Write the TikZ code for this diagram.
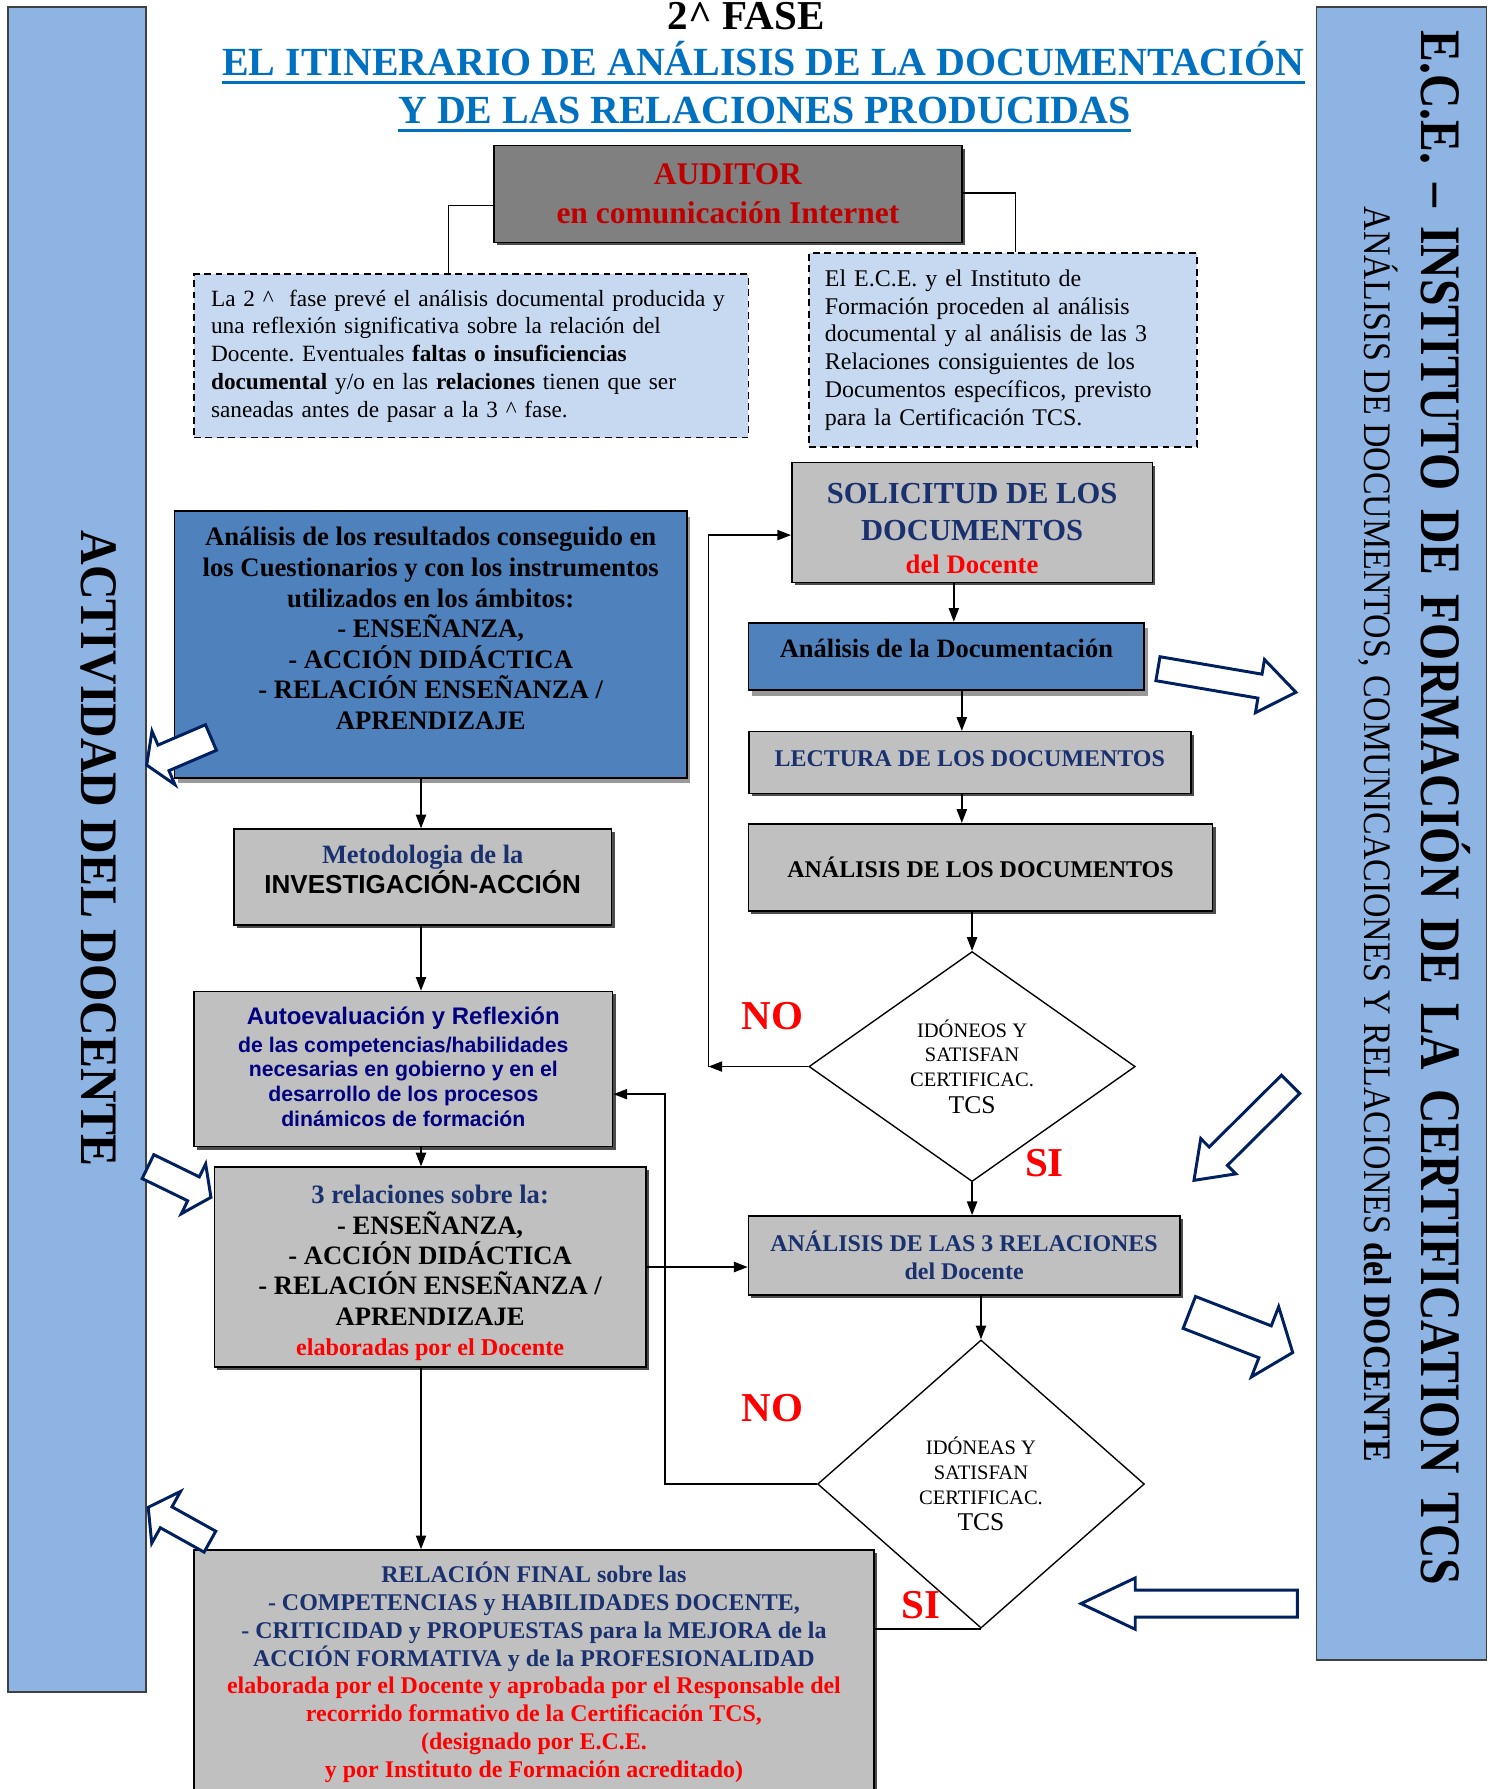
\documentclass[tikz,border=0pt]{standalone}
\usepackage{fontspec}
\setmainfont{Liberation Serif}
\setsansfont{Liberation Sans}
\usetikzlibrary{shapes.geometric,arrows.meta,shadows}
\frenchspacing
\definecolor{barblue}{HTML}{8EB4E3}
\definecolor{noteblue}{HTML}{C6D9F1}
\definecolor{boxblue}{HTML}{4F81BD}
\definecolor{boxgray}{HTML}{C0C0C0}
\definecolor{audgray}{HTML}{808080}
\definecolor{audred}{HTML}{C00000}
\definecolor{docnavy}{HTML}{1A3170}
\definecolor{sansnavy}{HTML}{000080}
\definecolor{titleblue}{HTML}{0070C0}
\definecolor{arrownavy}{HTML}{002060}
\tikzset{pics/hollow/.style args={#1/#2/#3/#4}{code={\draw[arrownavy,line width=1.3pt,fill=white] (0,-#2/2) -- (#1-#4,-#2/2) -- (#1-#4,-#3/2) -- (#1,0) -- (#1-#4,#3/2) -- (#1-#4,#2/2) -- (0,#2/2) -- cycle;}}}
\begin{document}
\begin{tikzpicture}[x=.5pt,y=-.5pt,>={Triangle[length=6pt,width=4.5pt]},
 sidebar/.style={draw=black!75,line width=.6pt,fill=barblue},
 note/.style={draw,line width=.8pt,dash pattern=on 3pt off 2pt,fill=noteblue,align=left,font=\fontsize{10.5}{12.15}\selectfont},
 graybox/.style={draw,line width=.7pt,fill=boxgray,align=center,inner sep=0pt,drop shadow={shadow xshift=1.3pt,shadow yshift=-1.3pt,fill=black!70,opacity=1}},
 bluebox/.style={draw,line width=.8pt,fill=boxblue,align=center,inner sep=0pt,drop shadow={shadow xshift=1.5pt,shadow yshift=-2.5pt,fill=black!40,opacity=1}},
 check/.style={diamond,draw,line width=.6pt,inner sep=0pt,align=center,font=\fontsize{9}{10.8}\selectfont},
 yesno/.style={text=red,font=\fontsize{18}{20}\selectfont\bfseries,inner sep=0pt},
 link/.style={line width=.6pt}]
\useasboundingbox (0,0) rectangle (1305,1568);
\draw[sidebar] (7,6) rectangle (128,1483);
\draw[sidebar] (1154,6) rectangle (1303,1455);
\node[rotate=-90,yscale=1.1,anchor=base,inner sep=0pt,font=\fontsize{21}{24}\selectfont\bfseries] (act) at (71,744) {ACTIVIDAD DEL DOCENTE};
\node[rotate=-90,yscale=1.2,anchor=base west,inner sep=0pt,font=\fontsize{20.9}{24}\selectfont\bfseries] (ece) at (1246,26.3) {\spaceskip=.4em\relax E.C.E. -- INSTITUTO DE FORMACIÓN DE LA CERTIFICATION TCS};
\node[rotate=-90,yscale=1.15,anchor=base west,inner sep=0pt,font=\fontsize{14.85}{17}\selectfont] (ana) at (1196,181) {ANÁLISIS DE DOCUMENTOS, COMUNICACIONES Y RELACIONES \textbf{del DOCENTE}};
\node[anchor=base,inner sep=0pt,font=\fontsize{18}{20}\selectfont\bfseries] (fase) at (654,25.7) {2\textasciicircum\ FASE};
\node[anchor=base,inner sep=0pt,text=titleblue,font=\fontsize{17.5}{20}\selectfont\bfseries] (tit1) at (669,66.4) {EL ITINERARIO DE ANÁLISIS DE LA DOCUMENTACIÓN};
\node[anchor=base,inner sep=0pt,text=titleblue,font=\fontsize{17.5}{20}\selectfont\bfseries] (tit2) at (670,108) {Y DE LAS RELACIONES PRODUCIDAS};
\draw[titleblue,line width=1.3pt] ([yshift=-3pt]tit1.base west) -- ([yshift=-3pt]tit1.base east);
\draw[titleblue,line width=1.3pt] ([yshift=-3pt]tit2.base west) -- ([yshift=-3pt]tit2.base east);
\node[graybox,fill=audgray,text=audred,minimum width=205pt,minimum height=42.4pt,font=\fontsize{13.8}{17}\selectfont\bfseries] (aud) at (638,170) {AUDITOR\\en comunicación Internet};
\node[note,minimum width=243pt,minimum height=71.5pt,text width=228pt,inner xsep=7.5pt,font=\fontsize{10.2}{12.15}\selectfont] (notaL) at (413,312) {La 2 \textasciicircum~ fase prevé el análisis documental producida y\\una reflexión significativa sobre la relación del\\Docente. Eventuales \textbf{faltas o insuficiencias}\\\textbf{documental} y/o en las \textbf{relaciones} tienen que ser\\saneadas antes de pasar a la 3 \textasciicircum\ fase.};
\node[note,minimum width=170pt,minimum height=84.75pt,text width=156pt,inner xsep=7pt] (notaR) at (879,306.75) {El E.C.E. y el Instituto de\\Formación proceden al análisis\\documental y al análisis de las 3\\Relaciones consiguientes de los\\Documentos específicos, previsto\\para la Certificación TCS.};
\node[graybox,minimum width=158pt,minimum height=52.5pt,text=docnavy,font=\fontsize{13.4}{16.2}\selectfont\bfseries] (sol) at (852,458) {\rule{0pt}{14pt}SOLICITUD DE LOS\\DOCUMENTOS\\[-1.5pt]{\color{red}\fontsize{11.7}{14}\selectfont del Docente}};
\node[bluebox,minimum width=224.5pt,minimum height=116.8pt,text depth=14pt,font=\fontsize{11.7}{13.4}\selectfont\bfseries] (res) at (377.5,564.8) {Análisis de los resultados conseguido en\\los Cuestionarios y con los instrumentos\\utilizados en los ámbitos:\\- ENSEÑANZA,\\- ACCIÓN DIDÁCTICA\\- RELACIÓN ENSEÑANZA /\\APRENDIZAJE};
\node[bluebox,minimum width=173.5pt,minimum height=29.5pt,text depth=7pt,font=\fontsize{11.6}{14}\selectfont\bfseries] (docu) at (829.5,575.2) {Análisis de la Documentación};
\node[graybox,minimum width=193.75pt,minimum height=27pt,text depth=3.7pt,text=docnavy,font=\fontsize{10.5}{12}\selectfont\bfseries] (lec) at (850,668.3) {LECTURA DE LOS DOCUMENTOS};
\node[graybox,minimum width=203.35pt,minimum height=38.25pt,font=\fontsize{10.5}{12}\selectfont\bfseries] (adoc) at (859.4,760.2) {ANÁLISIS DE LOS DOCUMENTOS};
\node[graybox,minimum width=165.5pt,minimum height=42pt,text depth=6.4pt,font=\fontsize{11.6}{13.15}\selectfont\bfseries] (met) at (370.5,768.7) {\textcolor{docnavy}{Metodologia de la}\\{\sffamily\fontsize{11.4}{13.15}\selectfont INVESTIGACIÓN-ACCIÓN}};
\node[graybox,minimum width=183.5pt,minimum height=68pt,text depth=2pt,text=sansnavy,font=\sffamily\bfseries\fontsize{9.3}{10.8}\selectfont] (auto) at (353.5,937) {{\fontsize{10.5}{12}\selectfont Autoevaluación y Reflexión}\\[1.2pt]de las competencias/habilidades\\necesarias en gobierno y en el\\desarrollo de los procesos\\dinámicos de formación};
\node[graybox,minimum width=189pt,minimum height=87.5pt,font=\fontsize{11.65}{13.3}\selectfont\bfseries] (tres) at (377,1110.5) {\rule{0pt}{13.4pt}\textcolor{docnavy}{3 relaciones sobre la:}\\- ENSEÑANZA,\\- ACCIÓN DIDÁCTICA\\- RELACIÓN ENSEÑANZA /\\APRENDIZAJE\\\textcolor{red}{\fontsize{10.6}{13}\selectfont elaboradas por el Docente}};
\node[graybox,minimum width=189pt,minimum height=34.65pt,text=docnavy,font=\fontsize{10.5}{12.35}\selectfont\bfseries] (arel) at (845,1100.4) {ANÁLISIS DE LAS 3 RELACIONES\\del Docente};
\node[graybox,minimum width=298pt,minimum height=107.2pt,text=docnavy,font=\fontsize{10.5}{12.2}\selectfont\bfseries] (fin) at (468,1465.7) {RELACIÓN FINAL sobre las\\- COMPETENCIAS y HABILIDADES DOCENTE,\\- CRITICIDAD y PROPUESTAS para la MEJORA de la\\ACCIÓN FORMATIVA y de la PROFESIONALIDAD\\\textcolor{red}{elaborada por el Docente y aprobada por el Responsable del}\\\textcolor{red}{recorrido formativo de la Certificación TCS,}\\\textcolor{red}{(designado por E.C.E.}\\\textcolor{red}{y por Instituto de Formación acreditado)}};
\node[check,minimum width=143pt,minimum height=100.8pt] (d1) at (852,934.8) {IDÓNEOS Y\\SATISFAN\\CERTIFICAC.\\[.9pt]{\fontsize{11.2}{13}\selectfont TCS}};
\node[check,minimum width=143.2pt,minimum height=126.3pt] (d2) at (859.8,1300.7) {IDÓNEAS Y\\SATISFAN\\CERTIFICAC.\\[.9pt]{\fontsize{11.2}{13}\selectfont TCS}};
\node[yesno] (no1) at (677,891) {NO};
\node[yesno] (si1) at (915.5,1019.5) {SI};
\node[yesno] (no2) at (677,1234) {NO};
\node[yesno] (si2) at (807,1406.7) {SI};
\coordinate (kL) at (393,180);
\coordinate (kR) at (890,169);
\draw[link] (aud.west |- kL) -- (kL) -- (kL |- notaL.north);
\draw[link] (aud.east |- kR) -- (kR) -- (kR |- notaR.north);
\foreach \a/\b in {res/met,met/auto,auto/tres,tres/fin}\draw[link,->] (\a.south -| 369,0) -- (\b.north -| 369,0);
\foreach \a/\b/\x in {sol/docu/836,docu/lec/843,lec/adoc/843,adoc/d1/852,d1/arel/852,arel/d2/859.8}\draw[link,->] (\a.south -| \x,0) -- (\b.north -| \x,0);
\coordinate (back1) at (621,0);
\draw[link,->] (d1.west) -- (d1.west -| back1);
\draw[link,->] (d1.west -| back1) |- ([yshift=-5.5pt]sol.west);
\coordinate (back2) at (583,0);
\draw[link,->] (d2.west) -- (d2.west -| back2) |- ([yshift=-11pt]auto.east);
\draw[link,->] (tres.east) -- (tres.east -| arel.west);
\draw[link] (d2.south) -- (d2.south -| fin.east);
\pic[rotate=203.2] at (184.9,646.4) {hollow={61.3/24.4/51/16}};
\pic[rotate=-9.7] at (1014.9,586.1) {hollow={122.7/21.3/47.3/32}};
\pic[rotate=224.8] at (1131.2,950.4) {hollow={119.4/22.7/43.6/30}};
\pic[rotate=-21.2] at (1042.4,1150.3) {hollow={97.2/30/66/26}};
\pic[rotate=180] at (1137,1405.5) {hollow={189.5/23.5/45/47.5}};
\pic[rotate=-26] at (129.7,1022.5) {hollow={61.4/23.3/48.6/17}};
\pic[rotate=150.9] at (184,1351.2) {hollow={61.9/21/52/18}};
\end{tikzpicture}
\end{document}
